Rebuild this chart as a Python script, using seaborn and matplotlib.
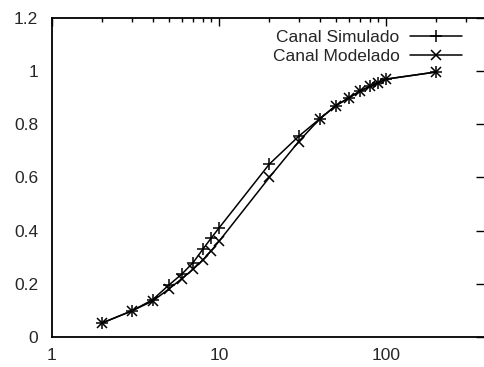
import matplotlib
matplotlib.use("Agg")
import matplotlib.pyplot as plt
import seaborn as sns
import pandas as pd
from matplotlib.ticker import FixedLocator, FuncFormatter, LogLocator, NullFormatter

x_vals = [2, 3, 4, 5, 6, 7, 8, 9, 10, 20, 30, 40, 50, 60, 70, 80, 90, 100, 200]
simulado = [0.053, 0.098, 0.14, 0.195, 0.237, 0.28, 0.33, 0.373, 0.41, 0.65, 0.755,
            0.82, 0.87, 0.90, 0.925, 0.943, 0.957, 0.97, 0.997]
modelado = [0.053, 0.098, 0.135, 0.18, 0.22, 0.255, 0.29, 0.325, 0.36, 0.60, 0.735,
            0.82, 0.87, 0.90, 0.925, 0.943, 0.957, 0.97, 0.997]
labels = ["Canal Simulado", "Canal Modelado"]
y_ticks = [0, 0.2, 0.4, 0.6, 0.8, 1.0, 1.2]
x_ticks = [1, 10, 100]

sns.set_style("white")
plt.rcParams['font.family'] = ['Liberation Sans', 'DejaVu Sans']

fig = plt.figure(figsize=(4.84, 3.67), dpi=100)
ax = fig.add_axes([52 / 484, 30 / 367, 432 / 484, 319 / 367])

df1 = pd.DataFrame({"x": x_vals, "y": simulado})
df2 = pd.DataFrame({"x": x_vals, "y": modelado})
sns.lineplot(data=df1, x="x", y="y", ax=ax, color="black", linewidth=1.1,
             marker="+", markersize=9, markeredgewidth=1.1,
             markeredgecolor="black", label=labels[0])
sns.lineplot(data=df2, x="x", y="y", ax=ax, color="black", linewidth=1.1,
             marker="x", markersize=7, markeredgewidth=1.1,
             markeredgecolor="black", label=labels[1])

ax.set_xscale("log")
ax.set_xlim(1, 10 ** (432 / 167))
ax.set_ylim(0, 1.2)
ax.xaxis.set_major_locator(FixedLocator(x_ticks))
ax.xaxis.set_major_formatter(FuncFormatter(lambda v, p: f"{v:g}"))
ax.xaxis.set_minor_locator(LogLocator(base=10, subs=range(2, 10)))
ax.xaxis.set_minor_formatter(NullFormatter())
ax.yaxis.set_major_locator(FixedLocator(y_ticks))
ax.yaxis.set_major_formatter(FuncFormatter(lambda v, p: f"{v:g}"))
ax.set_xlabel("")
ax.set_ylabel("")
ax.tick_params(which="both", direction="in", top=True, right=True, color="black",
               labelsize=12.5)
ax.tick_params(axis="y", pad=10)
ax.tick_params(axis="x", pad=8)
ax.tick_params(which="major", length=6, width=1)
ax.tick_params(which="minor", length=3, width=1)
for s in ax.spines.values():
    s.set_color("black")
    s.set_linewidth(1.3)
ax.spines["right"].set_visible(False)

leg = ax.legend(loc="upper right", frameon=False, markerfirst=False, fontsize=12.5,
                handlelength=3.0, borderaxespad=0.0, labelspacing=0.25,
                handletextpad=0.6, bbox_to_anchor=(0.965, 0.985))

fig.savefig("out.png", dpi=100)
